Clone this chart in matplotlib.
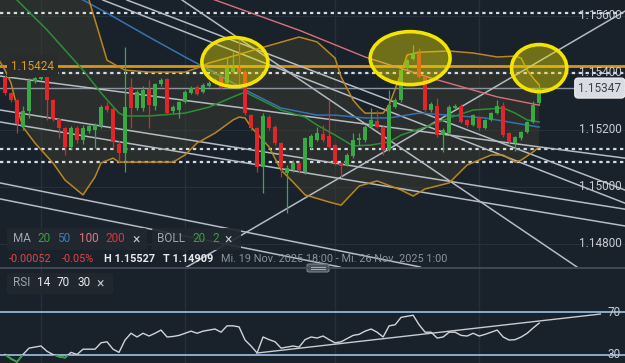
import matplotlib
matplotlib.use("Agg")
import matplotlib.pyplot as plt
import matplotlib.transforms as mtransforms
from matplotlib.patches import Ellipse, Rectangle, FancyBboxPatch
import numpy as np

plt.rcParams['font.family'] = ['Roboto', 'DejaVu Sans']

# ---- values (EUR/USD, 1h candles, oldest first) ----
opens = [1.15386, 1.15330, 1.15305, 1.15210, 1.15266, 1.15372, 1.15379, 1.15386, 1.15305, 1.15238,
         1.15207, 1.15140, 1.15207, 1.15165, 1.15196, 1.15200, 1.15214, 1.15284, 1.15273, 1.15151,
         1.15119, 1.15351, 1.15277, 1.15277, 1.15344, 1.15284, 1.15361, 1.15379, 1.15266, 1.15270,
         1.15298, 1.15330, 1.15351, 1.15333, 1.15354, 1.15365, 1.15386, 1.15365, 1.15403, 1.15417,
         1.15403, 1.15252, 1.15207, 1.15070, 1.15245, 1.15210, 1.15154, 1.15049, 1.15059, 1.15084,
         1.15052, 1.15140, 1.15165, 1.15186, 1.15179, 1.15147, 1.15084, 1.15077, 1.15108, 1.15165,
         1.15165, 1.15210, 1.15231, 1.15210, 1.15130, 1.15280, 1.15305, 1.15417, 1.15449, 1.15470,
         1.15386, 1.15270, 1.15284, 1.15182, 1.15189, 1.15277, 1.15284, 1.15235, 1.15217, 1.15245,
         1.15207, 1.15235, 1.15259, 1.15284, 1.15189, 1.15154, 1.15172, 1.15193, 1.15228, 1.15294]
highs = [1.15393, 1.15333, 1.15309, 1.15284, 1.15382, 1.15386, 1.15393, 1.15390, 1.15309, 1.15242,
         1.15210, 1.15214, 1.15214, 1.15217, 1.15221, 1.15224, 1.15287, 1.15298, 1.15280, 1.15165,
         1.15491, 1.15382, 1.15340, 1.15354, 1.15375, 1.15365, 1.15382, 1.15382, 1.15287, 1.15301,
         1.15340, 1.15354, 1.15358, 1.15365, 1.15372, 1.15382, 1.15393, 1.15456, 1.15473, 1.15527,
         1.15410, 1.15256, 1.15210, 1.15259, 1.15252, 1.15217, 1.15158, 1.15077, 1.15094, 1.15087,
         1.15175, 1.15186, 1.15210, 1.15217, 1.15305, 1.15151, 1.15087, 1.15119, 1.15189, 1.15189,
         1.15217, 1.15277, 1.15270, 1.15214, 1.15340, 1.15312, 1.15417, 1.15449, 1.15498, 1.15488,
         1.15390, 1.15298, 1.15312, 1.15207, 1.15287, 1.15291, 1.15291, 1.15238, 1.15256, 1.15249,
         1.15238, 1.15263, 1.15305, 1.15298, 1.15193, 1.15179, 1.15196, 1.15231, 1.15301, 1.15358]
lows = [1.15323, 1.15298, 1.15189, 1.15200, 1.15242, 1.15365, 1.15375, 1.15235, 1.15231, 1.15172,
        1.15112, 1.15133, 1.15154, 1.15151, 1.15189, 1.15137, 1.15207, 1.15263, 1.15137, 1.15087,
        1.15052, 1.15207, 1.15270, 1.15266, 1.15207, 1.15270, 1.15354, 1.15252, 1.15259, 1.15242,
        1.15294, 1.15326, 1.15323, 1.15330, 1.15351, 1.15361, 1.15344, 1.15361, 1.15400, 1.15358,
        1.15252, 1.15200, 1.15052, 1.14979, 1.15200, 1.15147, 1.15035, 1.14909, 1.15052, 1.15049,
        1.15045, 1.15133, 1.15161, 1.15158, 1.15137, 1.15077, 1.15035, 1.15073, 1.15101, 1.15147,
        1.15158, 1.15207, 1.15207, 1.15112, 1.15126, 1.15277, 1.15298, 1.15410, 1.15445, 1.15382,
        1.15263, 1.15263, 1.15175, 1.15123, 1.15182, 1.15273, 1.15224, 1.15210, 1.15214, 1.15200,
        1.15203, 1.15231, 1.15256, 1.15175, 1.15151, 1.15126, 1.15165, 1.15189, 1.15224, 1.15287]
closes = [1.15330, 1.15305, 1.15221, 1.15266, 1.15372, 1.15382, 1.15386, 1.15305, 1.15238, 1.15207,
          1.15140, 1.15207, 1.15165, 1.15207, 1.15214, 1.15217, 1.15280, 1.15270, 1.15158, 1.15119,
          1.15280, 1.15277, 1.15333, 1.15340, 1.15287, 1.15361, 1.15375, 1.15259, 1.15280, 1.15298,
          1.15333, 1.15347, 1.15326, 1.15358, 1.15365, 1.15375, 1.15347, 1.15417, 1.15417, 1.15403,
          1.15259, 1.15207, 1.15070, 1.15249, 1.15207, 1.15154, 1.15070, 1.15066, 1.15084, 1.15059,
          1.15172, 1.15179, 1.15189, 1.15165, 1.15140, 1.15084, 1.15073, 1.15112, 1.15165, 1.15172,
          1.15210, 1.15235, 1.15210, 1.15130, 1.15287, 1.15305, 1.15410, 1.15445, 1.15470, 1.15386,
          1.15270, 1.15291, 1.15182, 1.15200, 1.15280, 1.15284, 1.15228, 1.15217, 1.15252, 1.15207,
          1.15235, 1.15259, 1.15284, 1.15182, 1.15158, 1.15175, 1.15193, 1.15228, 1.15287, 1.15347]

rsi = [30, 26, 23, 30, 36, 37, 38, 33, 30, 28, 27, 32, 30, 35, 35, 35, 41, 42, 35, 32,
       43.6, 50, 46.5, 50, 47.4, 50, 53, 46.5, 47, 48, 50, 52, 50, 52, 53, 54, 51, 57, 57, 56,
       43.6, 38, 31.5, 46.5, 44, 42, 36, 37, 38, 37, 44, 46.5, 45.5, 47.4, 44, 41, 42, 45, 48, 49,
       52, 54, 51, 46.5, 57, 58, 65, 66, 67, 58, 51, 51, 45.5, 46.5, 51, 51, 48, 47.4, 50, 47.4,
       49, 51, 53, 46.5, 43.6, 44, 46.5, 50, 55, 59.6]

# bollinger (20, 2) and moving averages, sampled at candle index
bb_up_idx = [-1, 12, 14, 16, 17, 19, 20, 24, 30, 32, 34, 38, 42, 45, 49, 52, 55, 56, 58, 59,
             60, 63, 64, 66, 67, 69, 74, 78, 82, 85, 86, 87, 88, 89]
bb_up = [1.15937, 1.15796, 1.15656, 1.15516, 1.15445, 1.15421, 1.15410, 1.15403, 1.15403, 1.15417,
         1.15435, 1.15459, 1.15484, 1.15502, 1.15526, 1.15509, 1.15452, 1.15386, 1.15305, 1.15280,
         1.15259, 1.15259, 1.15287, 1.15400, 1.15463, 1.15473, 1.15477, 1.15470, 1.15456, 1.15459,
         1.15452, 1.15410, 1.15382, 1.15358]
bb_lo_idx = [-1, 0, 1, 2, 3, 5, 8, 10, 13, 15, 16, 18, 19, 21, 28, 30, 32, 35, 38, 39,
             40, 41, 44, 46, 48, 50, 54, 56, 59, 62, 66, 68, 70, 74, 77, 81, 83, 85, 86, 88, 89]
bb_lo = [1.15445, 1.15410, 1.15365, 1.15280, 1.15210, 1.15154, 1.15084, 1.15024, 1.14972, 1.15035,
         1.15084, 1.15101, 1.15087, 1.15087, 1.15087, 1.15112, 1.15154, 1.15189, 1.15235, 1.15245,
         1.15242, 1.15210, 1.15140, 1.15059, 1.15017, 1.14972, 1.14947, 1.14936, 1.15003, 1.15021,
         1.14989, 1.14968, 1.14993, 1.15014, 1.15077, 1.15112, 1.15112, 1.15087, 1.15094, 1.15123,
         1.15140]
ma20_idx = [-1, 2, 7, 13, 16, 19, 20, 24, 30, 34, 38, 40, 42, 46, 50, 52, 55, 58, 61, 64,
            66, 70, 74, 78, 83, 85, 87, 89]
ma20 = [1.15744, 1.15656, 1.15551, 1.15410, 1.15330, 1.15259, 1.15249, 1.15249, 1.15259, 1.15280,
        1.15316, 1.15333, 1.15312, 1.15270, 1.15245, 1.15217, 1.15182, 1.15144, 1.15147, 1.15158,
        1.15182, 1.15210, 1.15242, 1.15270, 1.15277, 1.15259, 1.15235, 1.15228]
ma50_idx = [-1, 13, 17, 24, 30, 35, 41, 46, 52, 55, 60, 64, 69, 74, 80, 85, 89]
ma50 = [1.15800, 1.15656, 1.15610, 1.15526, 1.15456, 1.15400, 1.15330, 1.15277, 1.15252, 1.15252,
        1.15242, 1.15242, 1.15259, 1.15252, 1.15242, 1.15224, 1.15210]
ma100_idx = [-1, 35, 49, 60, 71, 82, 89]
ma100 = [1.15919, 1.15656, 1.15550, 1.15456, 1.15382, 1.15316, 1.15287]

# drawn trend lines: (index0, price0, index1, price1)
trend_lines = [
    (-0.83, 1.15389, 103.3, 1.15101),
    (-0.83, 1.15270, 103.3, 1.14922),
    (-0.83, 1.15228, 103.3, 1.14863),
    (-0.83, 1.15014, 69.2, 1.14719),
    (-0.83, 1.14958, 55.8, 1.14719),
    (16.3, 1.15656, 103.3, 1.14943),
    (20.3, 1.15656, 103.3, 1.14989),
    (29.5, 1.15656, 95.3, 1.14719),
    (30.3, 1.14719, 103.3, 1.15617),
]
rsi_trend = (42, 31.4, 99.2, 68.1)

dashed_levels = [1.15610, 1.15400, 1.15133, 1.15088]
resistance = 1.15424
last_price = 1.15347
price_ticks = [1.15600, 1.15400, 1.15200, 1.15000, 1.14800]
day_grid = [6, 30, 55, 79]
# highlighted zones: (center index, center price, width in candles, height in price)
zones = [(38.3, 1.15438, 11.0, 0.00172), (67.5, 1.15452, 13.3, 0.00186), (89.0, 1.15417, 9.2, 0.00165)]

BG = '#19212b'
GRID = '#26303c'
GREEN = '#3aa845'
RED = '#e0262a'
W, H = 625, 363

fig = plt.figure(figsize=(6.25, 3.63), dpi=100, facecolor=BG)
ax = fig.add_axes([0, 96 / H, 1, 267 / H])
rs = fig.add_axes([0, 0, 1, 96 / H])
for a in (ax, rs):
    a.set_facecolor(BG)
    a.set_xlim(-0.83, 103.3)
    a.set_xticks([])
    a.set_yticks([])
    for s in a.spines.values():
        s.set_visible(False)
    for g in day_grid:
        a.axvline(g, color=GRID, lw=1, zorder=0)
ax.set_ylim(1.14719, 1.15656)
rs.set_ylim(22, 112.4)

for p in price_ticks:
    ax.axhline(p, color=GRID, lw=0.8, zorder=0)

# bollinger area
ax.fill(np.r_[bb_up_idx, bb_lo_idx[::-1]], np.r_[bb_up, bb_lo[::-1]],
        color='#3c3e2f', alpha=0.5, lw=0, zorder=1)

for p in dashed_levels:
    ax.axhline(p, color='#d4dbe3', lw=1.6, ls=(0, (1.5, 1.6)), zorder=3)
ax.axhline(resistance, color='#d4961c', lw=2, zorder=3)
ax.axhline(last_price, color='#8b939c', lw=1, zorder=3)

for x0, y0, x1, y1 in trend_lines:
    ax.plot([x0, x1], [y0, y1], color='#b4bbc3', lw=1.1, zorder=4)

ax.plot(ma100_idx, ma100, color='#d9707a', lw=1, zorder=5)
ax.plot(ma50_idx, ma50, color='#3673b0', lw=1.1, zorder=5)
ax.plot(ma20_idx, ma20, color='#2c8f36', lw=1.1, zorder=5)
ax.plot(bb_up_idx, bb_up, color='#bb8620', lw=1.1, zorder=5)
ax.plot(bb_lo_idx, bb_lo, color='#bb8620', lw=1.1, zorder=5)

# candles
idx = np.arange(len(opens))
for i in idx:
    o, h, l, c = opens[i], highs[i], lows[i], closes[i]
    col = GREEN if c >= o else RED
    ax.vlines(i, l, h, color=col, lw=0.9, zorder=6)
    ax.bar(i, max(abs(c - o), 0.00003), bottom=min(o, c), width=0.68, color=col, lw=0, zorder=7)

for cx, cy, w, h in zones:
    ax.add_patch(Ellipse((cx, cy), w, h, facecolor='#e6dc00', alpha=0.42, lw=0, zorder=8))
    ax.add_patch(Ellipse((cx, cy), w, h, facecolor='none', edgecolor='#f4e400', lw=2.6, zorder=9))

# right price scale
tr = mtransforms.blended_transform_factory(ax.transAxes, ax.transData)
for p in price_ticks:
    ax.text(0.994, p, f'{p:.5f}', transform=tr, ha='right', va='center',
            color='#c9cdd3', fontsize=8.5, zorder=10)
ax.text(0.994, last_price, f'{last_price:.5f}', transform=tr, ha='right', va='center',
        color='#3c4048', fontsize=8.5, zorder=11,
        bbox=dict(boxstyle='round,pad=0.3', fc='#d9dde2', ec='#eef0f2', lw=0.8))
ax.text(0.018, resistance, f'{resistance:.5f}', transform=tr, ha='left', va='center',
        color='#d89c2c', fontsize=8.5, zorder=11,
        bbox=dict(boxstyle='square,pad=0.35', fc='#2a2c2b', ec='none'))

# RSI panel
rs.axhline(70, color='#9cc4e8', lw=1.2, zorder=2)
rs.axhline(30, color='#9cc4e8', lw=1.2, zorder=2)
rs.plot(idx, rsi, color='#d0d4d8', lw=1, zorder=5)
low_part, = rs.plot(idx, rsi, color='#2fa33a', lw=1.3, zorder=6)
low_part.set_clip_path(Rectangle((-5, 0), 200, 30, transform=rs.transData))
rs.plot([rsi_trend[0], rsi_trend[2]], [rsi_trend[1], rsi_trend[3]], color='#c8ccd0', lw=1, zorder=4)
tr2 = mtransforms.blended_transform_factory(rs.transAxes, rs.transData)
for v in (70, 30):
    rs.text(0.993, v, str(v), transform=tr2, ha='right', va='center', color='#c9cdd3', fontsize=8.5)

# separator between panels
fig.add_artist(plt.Line2D([0, 1], [1 - 267.5 / H] * 2, color='#434c58', lw=1.3))
fig.add_artist(FancyBboxPatch((307 / W, 1 - 272 / H), 22 / W, 8 / H,
                              boxstyle='round,pad=0,rounding_size=0.004',
                              fc='#4a525c', ec='#7a828c', lw=0.8))
for yy in (266.5, 269):
    fig.add_artist(plt.Line2D([311 / W, 325 / W], [1 - yy / H] * 2, color='#a8aeb6', lw=0.7))


# legend boxes and info row
def box(x0, y0, x1, y1):
    fig.add_artist(FancyBboxPatch((x0 / W, 1 - y1 / H), (x1 - x0) / W, (y1 - y0) / H,
                                  boxstyle='round,pad=0,rounding_size=0.006',
                                  fc='#212830', ec='none', alpha=0.92))


def label(x, y, s, color, size=8.5, weight='normal'):
    fig.text(x / W, 1 - y / H, s, color=color, fontsize=size, fontweight=weight,
             ha='left', va='center')


box(7, 228, 147, 250)
box(152, 228, 241, 250)
box(7, 273, 113, 294)
label(13, 239, 'MA', '#a0a6ae')
label(37, 239, '20', '#3aa03a')
label(57, 239, '50', '#3f7ab8')
label(79, 239, '100', '#e07878')
label(105, 239, '200', '#e03434')
label(132, 239, '×', '#c0c5cc', 10)
label(157, 239, 'BOLL', '#a0a6ae')
label(192, 239, '20', '#3aa03a')
label(212, 239, '2', '#3aa03a')
label(224, 239, '×', '#c0c5cc', 10)
label(9, 259, '-0.00052', '#e04646', 7.8)
label(62, 259, '-0.05%', '#e04646', 7.8)
label(104, 259, 'H 1.15527', '#e8eaed', 7.8, 'bold')
label(163, 259, 'T 1.14909', '#e8eaed', 7.8, 'bold')
label(221, 259, 'Mi. 19 Nov. 2025 18:00 - Mi. 26 Nov. 2025 1:00', '#8a919c', 7.8)
label(13, 283, 'RSI', '#a0a6ae')
label(37, 283, '14', '#e8eaed')
label(57, 283, '70', '#e8eaed')
label(77, 283, '30', '#e8eaed')
label(96, 283, '×', '#c0c5cc', 10)

fig.savefig('out.png', dpi=100, facecolor=BG)
